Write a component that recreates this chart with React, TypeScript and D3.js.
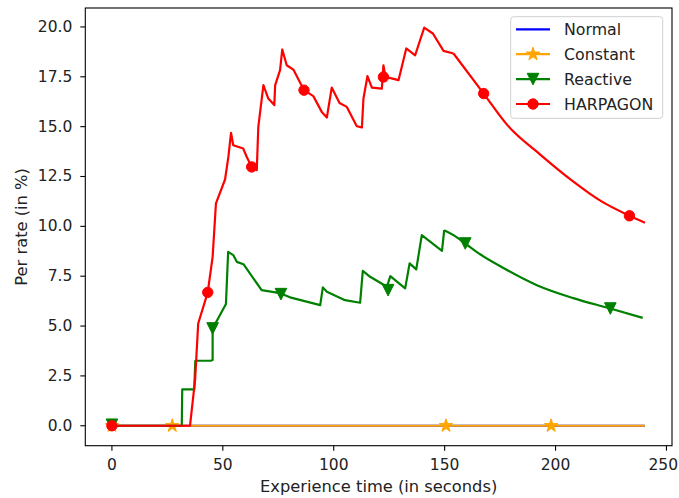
import React from "react";
import * as d3 from "d3";

// ---- data ----
const normalX = [0, 240.3];
const normalY = [0, 0];

const constantX = [0, 240.3];
const constantY = [0, 0];
const constantMarkX = [0, 27.2, 150.6, 198];
const constantMarkY = [0, 0, 0, 0];

// jagged part (straight segments)
const reactiveX = [0, 31.5, 31.7, 37.1, 37.6, 44.5, 45.4, 45.4, 51.1, 51.4, 52.4, 54.7, 56.3, 59.3, 67.5, 75.8, 80.3, 93.9, 95.1, 96.9, 105.1, 111.9, 113.1, 116.4, 124.0, 125.5, 132.2, 134.2, 137.2, 139.7, 148.8, 149.8];
const reactiveY = [0, 0, 1.82, 1.82, 3.26, 3.26, 3.3, 4.88, 6.04, 6.1, 8.72, 8.56, 8.22, 8.1, 6.8, 6.65, 6.44, 6.05, 6.94, 6.72, 6.3, 6.17, 7.77, 7.47, 6.97, 7.5, 6.89, 8.14, 7.84, 9.56, 8.77, 9.81];
// smooth decay tail
const reactiveTailX = [149.8, 154.0, 159.3, 166.0, 175.1, 191.6, 208.0, 224.7, 239.3];
const reactiveTailY = [9.81, 9.56, 9.14, 8.6, 8.0, 7.05, 6.4, 5.88, 5.41];
const reactiveMarkX = [0, 45.4, 76.2, 124.5, 159.3, 224.7];
const reactiveMarkY = [0.05, 4.88, 6.6, 6.8, 9.14, 5.88];

const harpagonX = [0, 35.2, 37.5, 38.9, 43.2, 45.4, 46.9, 51.0, 52.5, 53.7, 54.7, 59.2, 60.8, 63.0, 65.3, 66.0, 68.3, 70.5, 73.2, 73.6, 75.8, 76.8, 78.8, 81.8, 86.6, 90.8, 94.6, 96.9, 99.1, 102.6, 105.9, 110.4, 112.7, 113.4, 115.2, 117.2, 121.7, 122.4, 123.3, 124.7, 129.2, 132.7, 136.7, 140.8, 144.7, 149.5, 154.0];
const harpagonY = [0, 0, 2.3, 5.13, 6.69, 8.47, 11.15, 12.35, 13.48, 14.69, 14.07, 13.9, 13.48, 12.98, 12.82, 14.99, 17.08, 16.41, 16.08, 17.08, 17.83, 18.87, 18.08, 17.86, 16.83, 16.53, 15.74, 15.46, 16.96, 16.19, 15.99, 15.02, 14.96, 16.41, 17.53, 16.96, 16.91, 18.08, 17.5, 17.46, 17.33, 18.92, 18.58, 19.97, 19.67, 18.8, 18.67];
const harpagonTailX = [154.0, 167.6, 178.1, 193.1, 208.2, 220.0, 233.3, 240.3];
const harpagonTailY = [18.67, 16.66, 15.1, 13.6, 12.23, 11.3, 10.53, 10.18];
const harpagonMarkX = [0, 43.2, 63.0, 86.6, 122.4, 167.6, 233.3];
const harpagonMarkY = [0, 6.69, 12.98, 16.83, 17.49, 16.66, 10.53];

const xTicks = [0, 50, 100, 150, 200, 250];
const yTicks = [0, 2.5, 5, 7.5, 10, 12.5, 15, 17.5, 20];
const seriesNames = ["Normal", "Constant", "Reactive", "HARPAGON"];

// ---- layout ----
const W = 679;
const H = 498;
const L = 85.3, R = 672, T = 8, B = 445.7;
const FONT = "'DejaVu Sans', sans-serif";
const TICK_FS = 15.5;

const x = d3.scaleLinear().domain([-12, 252.5]).range([L, R]);
const y = d3.scaleLinear().domain([-1, 20.95]).range([B, T]);

const COLORS: Record<string, string> = {
  Normal: "#0000ff",
  Constant: "#ffa500",
  Reactive: "#008000",
  HARPAGON: "#ff0000",
};

function zip(xs: number[], ys: number[]): [number, number][] {
  return xs.map((v, i) => [v, ys[i]]);
}

const line = d3
  .line<[number, number]>()
  .x((d) => x(d[0]))
  .y((d) => y(d[1]));
const smoothLine = d3
  .line<[number, number]>()
  .x((d) => x(d[0]))
  .y((d) => y(d[1]))
  .curve(d3.curveMonotoneX);

function starPath(r: number) {
  const pts: string[] = [];
  const ri = r * 0.381966;
  for (let i = 0; i < 10; i++) {
    const rr = i % 2 === 0 ? r : ri;
    const a = -Math.PI / 2 + (i * Math.PI) / 5;
    pts.push(`${(rr * Math.cos(a)).toFixed(2)},${(rr * Math.sin(a)).toFixed(2)}`);
  }
  return "M" + pts.join("L") + "Z";
}
function triDownPath(r: number) {
  return `M0,${r}L${-r},${-r}L${r},${-r}Z`;
}

function Marker({ kind, cx, cy, color }: { kind: string; cx: number; cy: number; color: string }) {
  if (kind === "HARPAGON")
    return <circle cx={cx} cy={cy} r={5.2} fill={color} stroke={color} strokeWidth={1} />;
  if (kind === "Reactive")
    return <path d={triDownPath(5.8)} transform={`translate(${cx},${cy})`} fill={color} stroke={color} strokeWidth={1} />;
  if (kind === "Constant")
    return <path d={starPath(7)} transform={`translate(${cx},${cy})`} fill={color} stroke={color} strokeWidth={1} />;
  return null;
}

const seriesData: Record<string, { pts: [number, number][]; tail: [number, number][]; marks: [number, number][] }> = {
  Normal: { pts: zip(normalX, normalY), tail: [], marks: [] },
  Constant: { pts: zip(constantX, constantY), tail: [], marks: zip(constantMarkX, constantMarkY) },
  Reactive: { pts: zip(reactiveX, reactiveY), tail: zip(reactiveTailX, reactiveTailY), marks: zip(reactiveMarkX, reactiveMarkY) },
  HARPAGON: { pts: zip(harpagonX, harpagonY), tail: zip(harpagonTailX, harpagonTailY), marks: zip(harpagonMarkX, harpagonMarkY) },
};

const SW = 2.2;

export default function App() {
  const legX = 510.7, legY = 16.7, legW = 152, legH = 101.6;
  return (
    <svg
      width={W}
      height={H}
      style={{ position: "absolute", left: 0, top: 0, background: "#fff" }}
      fontFamily={FONT}
    >
      <rect x={0} y={0} width={W} height={H} fill="#fff" />
      <defs>
        <clipPath id="plot">
          <rect x={L} y={T} width={R - L} height={B - T} />
        </clipPath>
      </defs>

      <g clipPath="url(#plot)">
        {seriesNames.map((name) => {
          const s = seriesData[name];
          return (
            <g key={name}>
              <path d={line(s.pts) || ""} fill="none" stroke={COLORS[name]} strokeWidth={SW} strokeLinejoin="round" />
              {s.tail.length > 0 && (
                <path d={smoothLine(s.tail) || ""} fill="none" stroke={COLORS[name]} strokeWidth={SW} strokeLinejoin="round" />
              )}
              {s.marks.map((m, i) => (
                <Marker key={i} kind={name} cx={x(m[0])} cy={y(m[1])} color={COLORS[name]} />
              ))}
            </g>
          );
        })}
      </g>

      {/* frame */}
      <rect x={L} y={T} width={R - L} height={B - T} fill="none" stroke="#000" strokeWidth={1.1} />

      {/* x ticks */}
      {xTicks.map((t) => {
        const half = String(t).length * 0.636 * TICK_FS * 0.5;
        const cx = Math.min(x(t), W - 1 - half);
        return (
          <g key={"x" + t}>
            <line x1={x(t)} x2={x(t)} y1={B} y2={B + 5} stroke="#000" strokeWidth={1.1} />
            <text x={cx} y={B + 24} textAnchor="middle" fontSize={TICK_FS} fill="#222">
              {t}
            </text>
          </g>
        );
      })}
      {/* y ticks */}
      {yTicks.map((t) => (
        <g key={"y" + t}>
          <line x1={L - 5} x2={L} y1={y(t)} y2={y(t)} stroke="#000" strokeWidth={1.1} />
          <text x={L - 13} y={y(t)} textAnchor="end" dominantBaseline="central" fontSize={TICK_FS} fill="#222">
            {t.toFixed(1)}
          </text>
        </g>
      ))}

      <text x={(L + R) / 2} y={492} textAnchor="middle" fontSize={16.3} fill="#222">
        Experience time (in seconds)
      </text>
      <text
        transform={`translate(21,${(T + B) / 2}) rotate(-90)`}
        textAnchor="middle"
        dominantBaseline="central"
        fontSize={16.3}
        fill="#222"
      >
        Per rate (in %)
      </text>

      {/* legend */}
      <rect x={legX} y={legY} width={legW} height={legH} rx={3} fill="#fff" fillOpacity={0.8} stroke="#d0d0d0" strokeWidth={1} />
      {seriesNames.map((name, i) => {
        const cy = 29.3 + i * 24.9;
        return (
          <g key={"leg" + name}>
            <line x1={516} x2={550} y1={cy} y2={cy} stroke={COLORS[name]} strokeWidth={SW} />
            <Marker kind={name} cx={533} cy={cy} color={COLORS[name]} />
            <text x={564} y={cy} dominantBaseline="central" fontSize={15.8} fill="#222">
              {name}
            </text>
          </g>
        );
      })}
    </svg>
  );
}
